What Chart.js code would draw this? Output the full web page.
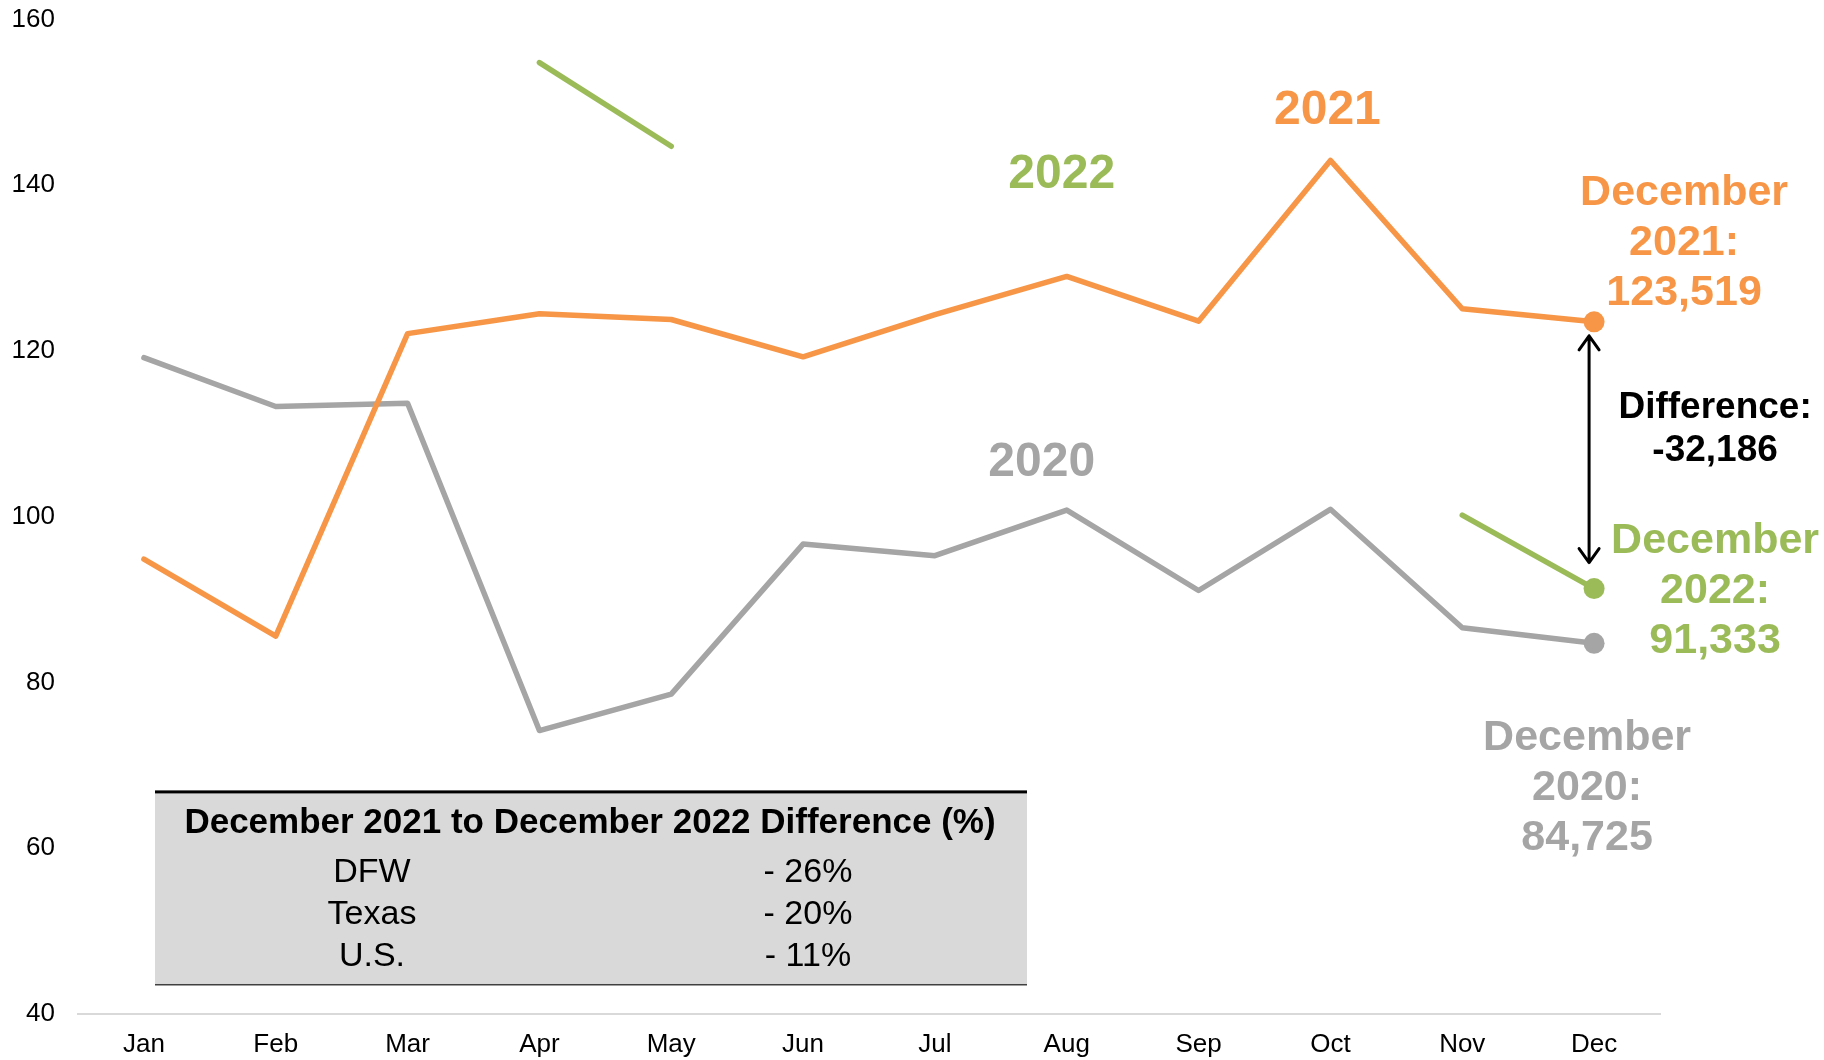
<!DOCTYPE html>
<html>
<head>
<meta charset="utf-8">
<title>Monthly totals, 2020-2022</title>
<script src="https://cdn.jsdelivr.net/npm/chart.js@4.4.1/dist/chart.umd.min.js"></script>
<style>
  html, body { margin: 0; padding: 0; background: #fff; }
  #wrap { width: 1824px; height: 1060px; position: relative; }
</style>
</head>
<body>
<div id="wrap"><canvas id="chart"></canvas></div>
<script>
// values in thousands
const months = ['Jan','Feb','Mar','Apr','May','Jun','Jul','Aug','Sep','Oct','Nov','Dec'];
const values2020 = [119.2, 113.3, 113.7, 74.2, 78.6, 96.7, 95.3, 100.8, 91.1, 100.9, 86.6, 84.725];
const values2021 = [94.9, 85.6, 122.1, 124.5, 123.8, 119.3, 124.4, 129.0, 123.6, 143.0, 125.1, 123.519];
const values2022 = [null, null, null, 154.8, 144.7, null, null, null, null, null, 100.2, 91.333];

const tableTitle = 'December 2021 to December 2022 Difference (%)';
const tableRegions = ['DFW', 'Texas', 'U.S.'];
const tableChanges = ['- 26%', '- 20%', '- 11%'];

const ORANGE = '#F79646', GRAY = '#A5A5A5', GREEN = '#9BBB59';
const FONT = '"Liberation Sans", Arial, sans-serif';

// only the December point gets a marker
function lastOnly(arr, r) { return arr.map((v, i) => i === arr.length - 1 ? r : 0); }

function drawLines(ctx, lines, cx, cy, lineH, font, color) {
  ctx.font = font;
  ctx.fillStyle = color;
  ctx.textAlign = 'center';
  ctx.textBaseline = 'middle';
  lines.forEach((t, i) => ctx.fillText(t, cx, cy + i * lineH));
}

const annotations = {
  id: 'annotations',
  afterDatasetsDraw(chart) {
    const { ctx, chartArea, scales: { x, y } } = chart;
    const dec = x.getPixelForValue(11);
    const big = 'bold 48px ' + FONT;
    const mid = 'bold 43px ' + FONT;
    ctx.save();

    // series names
    drawLines(ctx, ['2021'], x.getPixelForValue(9) - 3, y.getPixelForValue(149.0), 0, big, ORANGE);
    drawLines(ctx, ['2022'], x.getPixelForValue(7) - 5, y.getPixelForValue(141.3), 0, big, GREEN);
    drawLines(ctx, ['2020'], x.getPixelForValue(7) - 25, y.getPixelForValue(106.5), 0, big, GRAY);

    // december callouts
    drawLines(ctx, ['December', '2021:', '123,519'], dec + 90, y.getPixelForValue(139.1), 50, mid, ORANGE);
    drawLines(ctx, ['December', '2022:', '91,333'], dec + 121, y.getPixelForValue(97.1), 50, mid, GREEN);
    drawLines(ctx, ['December', '2020:', '84,725'], dec - 7, y.getPixelForValue(73.3), 50, mid, GRAY);
    drawLines(ctx, ['Difference:', '-32,186'], dec + 121, y.getPixelForValue(113.1), 43, 'bold 37px ' + FONT, '#000');

    // double arrow between Dec 2021 and Dec 2022
    const ax = dec - 5;
    const top = y.getPixelForValue(values2021[11]) + 14;
    const bot = y.getPixelForValue(values2022[11]) - 26;
    ctx.strokeStyle = '#000';
    ctx.lineWidth = 3;
    ctx.lineCap = 'round';
    ctx.lineJoin = 'round';
    ctx.beginPath();
    ctx.moveTo(ax, top); ctx.lineTo(ax, bot);
    ctx.moveTo(ax - 10, top + 14); ctx.lineTo(ax, top); ctx.lineTo(ax + 10, top + 14);
    ctx.moveTo(ax - 10, bot - 14); ctx.lineTo(ax, bot); ctx.lineTo(ax + 10, bot - 14);
    ctx.stroke();

    // summary table
    const tl = chartArea.left + 77, tr = chartArea.left + 949;
    const tt = y.getPixelForValue(66.8), tb = y.getPixelForValue(43.5);
    ctx.fillStyle = '#D9D9D9';
    ctx.fillRect(tl, tt, tr - tl, tb - tt);
    ctx.fillStyle = '#000';
    ctx.fillRect(tl, tt - 1.5, tr - tl, 3);
    ctx.fillStyle = '#404040';
    ctx.fillRect(tl, tb - 1, tr - tl, 1.5);
    drawLines(ctx, [tableTitle], (tl + tr) / 2 - 1, tt + 31, 0, 'bold 35px ' + FONT, '#000');
    drawLines(ctx, tableRegions, tl + 217, tt + 81, 42, '34px ' + FONT, '#000');
    drawLines(ctx, tableChanges, tl + 653, tt + 81, 42, '34px ' + FONT, '#000');

    ctx.restore();
  }
};

const lineSet = (label, data, color, order) => ({
  label, data, order,
  borderColor: color,
  backgroundColor: color,
  borderWidth: 5.5,
  borderCapStyle: 'round',
  borderJoinStyle: 'round',
  pointRadius: lastOnly(data, 10.5),
  pointHoverRadius: lastOnly(data, 10.5),
  pointBorderWidth: 0,
  tension: 0,
  spanGaps: false
});

new Chart(document.getElementById('chart'), {
  type: 'line',
  data: {
    labels: months,
    datasets: [
      lineSet('2020', values2020, GRAY, 2),
      lineSet('2021', values2021, ORANGE, 1),
      lineSet('2022', values2022, GREEN, 0)
    ]
  },
  options: {
    responsive: true,
    maintainAspectRatio: false,
    animation: false,
    layout: { padding: { top: 0, right: 164, left: 0, bottom: 0 } },
    plugins: { legend: { display: false }, tooltip: { enabled: false } },
    scales: {
      x: {
        offset: true,
        grid: { drawOnChartArea: false, drawTicks: false },
        border: { display: true, color: '#D9D9D9', width: 2 },
        ticks: { color: '#000', padding: 15, font: { family: FONT, size: 26 } },
        afterFit(s) { s.height = 46; }
      },
      y: {
        min: 40, max: 160,
        grid: { drawOnChartArea: false, drawTicks: false },
        border: { display: false },
        ticks: { stepSize: 20, color: '#000', padding: 23, font: { family: FONT, size: 26 } },
        afterFit(s) { s.width = 78; s.paddingTop = 19.5; s.paddingBottom = 0; }
      }
    }
  },
  plugins: [annotations]
});
</script>
</body>
</html>
